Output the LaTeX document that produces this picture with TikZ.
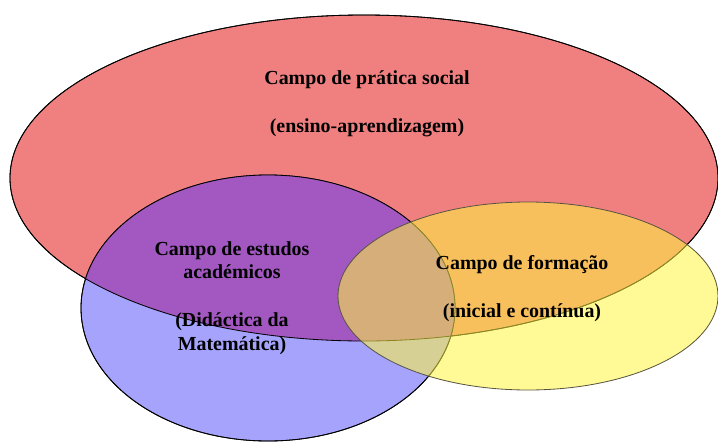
\documentclass[tikz,border=0pt]{standalone}
\usepackage{fontspec}
\setmainfont{Liberation Serif}
\usetikzlibrary{shapes.geometric}

\definecolor{redfield}{RGB}{240,128,128}
\definecolor{bluefield}{RGB}{165,163,252}
\definecolor{purplefield}{RGB}{162,88,192}
\definecolor{yellowfield}{RGB}{255,246,64}

\begin{document}
\begin{tikzpicture}[%
    x=0.03cm,
    y=-0.03cm,
    field/.style={%
        draw,
        ellipse,
        inner sep=0pt,
        line width=0.7pt
    },
    label/.style={%
        align=center,
        font=\fontsize{17}{20}\selectfont\bfseries
    }
]

\useasboundingbox (0,0) rectangle (718,441);

% Fields
\node[field, fill=redfield, minimum width=708*0.03cm, minimum height=326*0.03cm] (social) at (364,178) {};
\node[field, fill=bluefield, minimum width=374*0.03cm, minimum height=266*0.03cm] (estudos) at (268,308) {};

% Overlap of social and estudos
\begin{scope}
    \clip (social.center) ellipse [x radius=10.62cm, y radius=4.89cm];
    \fill[purplefield] (estudos.center) ellipse [x radius=5.61cm, y radius=3.99cm];
\end{scope}
\draw[line width=0.7pt] (social.center) ellipse [x radius=10.62cm, y radius=4.89cm];
\draw[line width=0.7pt] (estudos.center) ellipse [x radius=5.61cm, y radius=3.99cm];

\node[field, draw=black!75!yellow, fill=yellowfield, fill opacity=0.55, minimum width=380*0.03cm, minimum height=188*0.03cm] (formacao) at (528,296) {};

% Labels
\node[label] (sociallabel) at (367,104) {Campo de prática social\\[21pt](ensino-aprendizagem)};
\node[label] (estudoslabel) at (232,298) {Campo de estudos\\académicos\\[21pt](Didáctica da\\Matemática)};
\node[label] (formacaolabel) at (522,289) {Campo de formação\\[21pt](inicial e contínua)};

\end{tikzpicture}
\end{document}
